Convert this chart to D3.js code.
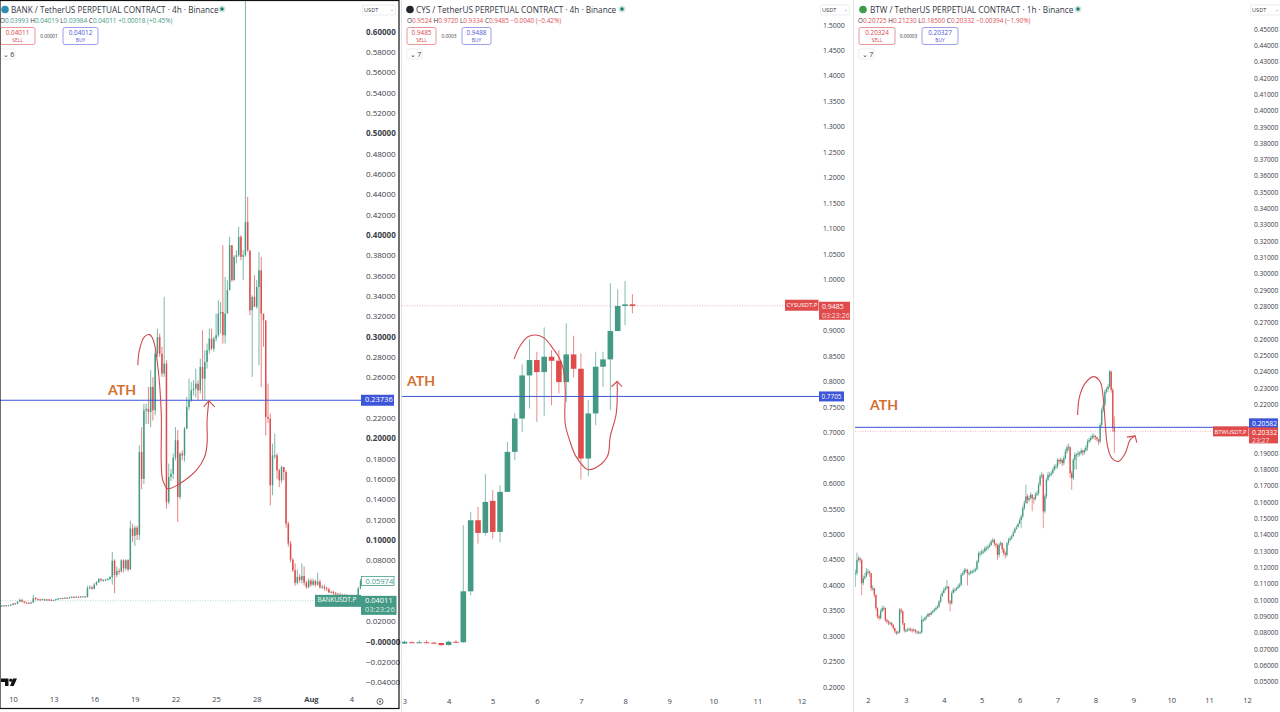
<!DOCTYPE html>
<html>
<head>
<meta charset="utf-8">
<script src="https://cdn.jsdelivr.net/npm/d3@7"></script>
<style>
  body { margin: 0; background: #fff; }
  text { font-family: "Open Sans", Roboto, sans-serif; }
</style>
</head>
<body>
<div id="chart"></div>
<script>
// BANK 4h
const bankCloses = [.035,.0353,.0356,.0354,.0358,.0362,.0375,.0372,.0392,.041,.0395,.0385,.0382,.0378,.0385,.0428,.0418,.0415,.0412,.0418,.0408,.0415,.0412,.0405,.0408,.0418,.0422,.0428,.0425,.0432,.0428,.0435,.044,.0438,.0442,.044,.0442,.0445,.0438,.0525,.0535,.052,.056,.0585,.0615,.0605,.0605,.061,.0615,.0635,.0795,.0654,.0695,.069,.08,.072,.08,.071,.1113,.104,.112,.105,.1865,.16,.2275,.229,.2258,.2505,.2275,.2832,.2996,.2832,.2636,.2734,.1373,.1619,.165,.181,.198,.1422,.1848,.183,.2094,.2308,.2373,.2472,.2488,.2537,.2472,.2701,.2586,.275,.2865,.298,.2882,.298,.3013,.3226,.3242,.3013,.3226,.3456,.3898,.3554,.3784,.38,.398,.3784,.38,.4128,.3849,.3259,.339,.3292,.3488,.3652,.3226,.316,.2209,.2193,.1537,.1832,.1832,.1684,.1586,.1717,.1668,.116,.0965,.0805,.0703,.0578,.0637,.0605,.0645,.058,.0535,.06,.056,.0595,.056,.059,.0535,.054,.0525,.0515,.0485,.049,.0475,.0465,.0455,.046,.0455,.0455,.044,.0435,.0425,.0415,.0405,.0523,.0597];
const bankHighs = [.0356,.0358,.036,.036,.0362,.0368,.038,.0382,.04,.0425,.042,.04,.039,.0385,.039,.046,.044,.0425,.042,.0425,.042,.042,.0418,.0415,.0412,.0422,.0428,.0432,.0432,.0436,.0434,.044,.0445,.0445,.0447,.0446,.0446,.0448,.0448,.055,.0555,.0545,.0575,.0595,.0625,.0625,.0615,.062,.0625,.0645,.088,.081,.074,.072,.081,.081,.081,.081,.119,.116,.114,.114,.193,.211,.234,.234,.2505,.2668,.26,.286,.3078,.3029,.2898,.339,.2767,.175,.17,.185,.211,.208,.1865,.188,.211,.2406,.2586,.2554,.257,.2685,.257,.2783,.3062,.2865,.2931,.3078,.3078,.3,.3226,.3357,.3341,.3898,.3587,.3554,.398,.3898,.38,.3849,.4079,.3997,.385,.63,.4374,.3833,.3406,.3603,.3555,.3833,.3784,.322,.2571,.2537,.2242,.1947,.2045,.185,.17,.1734,.1717,.1685,.118,.099,.082,.077,.071,.066,.0768,.074,.06,.062,.062,.062,.061,.0677,.061,.056,.056,.054,.053,.05,.05,.049,.048,.048,.047,.047,.0465,.045,.044,.043,.042,.054,.0615];
const bankLows = [.0345,.0348,.035,.035,.0352,.0355,.0358,.0365,.037,.039,.0385,.0375,.0372,.037,.0372,.038,.0405,.0405,.0405,.0405,.04,.04,.04,.04,.04,.0405,.0415,.042,.042,.0422,.0422,.0425,.043,.043,.0435,.0435,.0435,.044,.0432,.0435,.0515,.051,.0515,.055,.0575,.059,.059,.0595,.06,.061,.056,.0477,.063,.066,.068,.068,.07,.069,.0705,.098,.094,.1,.1,.15,.155,.214,.214,.211,.2175,.2225,.28,.28,.2603,.2603,.1307,.135,.158,.16,.1783,.1176,.14,.1783,.177,.2094,.2275,.2357,.242,.24,.2373,.244,.2373,.2373,.2685,.2832,.2865,.285,.295,.2997,.3029,.2931,.2931,.3407,.3456,.3538,.3554,.372,.3784,.3751,.3555,.3784,.3833,.321,.2603,.3292,.3275,.2718,.2504,.2899,.2029,.215,.134,.144,.18,.16,.152,.156,.1587,.112,.0935,.078,.0685,.055,.056,.058,.057,.055,.052,.0525,.054,.055,.054,.055,.052,.052,.05,.0495,.0475,.0475,.046,.045,.0445,.0445,.0445,.044,.043,.042,.041,.04,.0395,.0395,.0515];
// price ticks, the ones behind a price tag are left out
const bankTicks = [-.04,-.02,0,.02,.08,.1,.12,.14,.16,.18,.2,.22,.26,.28,.3,.32,.34,.36,.38,.4,.42,.44,.46,.48,.5,.52,.54,.56,.58,.6];
const bankBoldTicks = [.6, .5, .4, .3, .2, .1, 0];
const bankDates = [[6, "10"], [24, "13"], [42, "16"], [60, "19"], [78, "22"], [96, "25"], [114, "28"], [138, "Aug"], [156, "4"]];
const bankPen = [[61.3,.2718],[62,.2865],[64.2,.2996],[66.5,.3019],[68.2,.2964],[70.2,.2701],[71.7,.2242],[71.7,.175],[72.4,.1586],[74.6,.1504],[79.8,.1553],[87.2,.1684],[90.9,.1816],[92,.1947],[92,.2176],[92.8,.2367]];
const bankArrow = [[90.5,.2308],[92.8,.2367],[95.4,.2308]];

// CYS 4h
const cysOpens  = [.2855,.288,.2872,.288,.2872,.2865,.2825,.289,.288,.388,.5275,.5026,.5655,.5046,.5832,.6617,.7272,.8117,.8419,.8183,.8484,.8405,.7986,.853,.8248,.6486,.7371,.8288,.8432,.8988,.948,.9512];
const cysCloses = [.289,.2872,.288,.2872,.2865,.2825,.289,.2885,.388,.5275,.5026,.5635,.5046,.5832,.6617,.7272,.8117,.8419,.8183,.8484,.8405,.7986,.853,.8248,.6486,.7371,.8288,.8432,.8988,.948,.9512,.948];
const cysHighs  = [.291,.29,.292,.292,.289,.286,.291,.292,.5177,.5439,.5537,.618,.5865,.5963,.6814,.7378,.8333,.8825,.8582,.906,.8615,.8615,.9139,.8897,.855,.7632,.8582,.8582,.9925,.9807,.9971,.9715];
const cysLows   = [.2845,.2865,.286,.2865,.285,.2805,.282,.2875,.287,.3801,.4817,.4975,.4915,.4836,.644,.6453,.701,.7469,.7207,.7325,.7534,.7763,.76,.8078,.6074,.6139,.7141,.7895,.7436,.8988,.9106,.9336];
const cysTicks = [.2,.25,.3,.35,.4,.45,.5,.55,.6,.65,.7,.75,.8,.85,.9,1,1.05,1.1,1.15,1.2,1.25,1.3,1.35,1.4,1.45,1.5];
const cysDates = [[0, "3"], [6, "4"], [12, "5"], [18, "6"], [24, "7"], [30, "8"], [36, "9"], [42, "10"], [48, "11"], [54, "12"]];
const cysPen = [[14.9,.8438],[15.65,.868],[16.78,.8877],[17.91,.891],[19.05,.8844],[20.18,.8648],[21.09,.8451],[21.63,.8222],[21.86,.7829],[21.86,.7174],[22.45,.6847],[23.36,.6519],[24.94,.627],[26.53,.6355],[27.66,.6552],[27.98,.6912],[28.8,.737],[28.93,.8]];
const cysArrow = [[28.16,.7895],[28.93,.8],[29.6,.7895]];

// BTW 1h
const btwCloses = [.1164,.1246,.1256,.1246,.1103,.1133,.1144,.1174,.1174,.1164,.1072,.1072,.1031,.095,.0899,.0889,.093,.095,.095,.0878,.0868,.0858,.0858,.0848,.0827,.0807,.0797,.0801,.094,.093,.0858,.0813,.0813,.0817,.0821,.0817,.0813,.0817,.0807,.0801,.0801,.0801,.0878,.0878,.0889,.0899,.0915,.0909,.0923,.093,.094,.095,.096,.099,.1021,.1042,.1062,.1072,.1082,.099,.098,.1042,.1062,.1062,.1072,.1082,.1093,.1154,.1164,.1184,.1184,.1164,.1164,.1174,.1174,.118,.1188,.1235,.1286,.1286,.1297,.1297,.1317,.1317,.1327,.1337,.1358,.1368,.1345,.1337,.1276,.134,.1348,.131,.1286,.1276,.1348,.1368,.1378,.139,.141,.1435,.1445,.1465,.149,.1512,.1563,.1594,.1635,.1614,.1624,.1645,.1624,.1618,.1645,.1655,.1706,.1757,.1767,.1543,.1635,.1737,.1767,.1767,.1777,.1798,.1818,.1818,.1859,.1849,.1859,.1839,.1869,.191,.1936,.1936,.1777,.1747,.1859,.189,.189,.19,.19,.1916,.1904,.1916,.1936,.1971,.1981,.1992,.2006,.2006,.1998,.1985,.1971,.2073,.2165,.2196,.2277,.2292,.2308,.24,.2287,.2053,.2033];
const btwHighs = [.1185,.129,.127,.1262,.125,.115,.1165,.1195,.119,.118,.1165,.109,.1075,.1035,.0955,.091,.0945,.0965,.0965,.0955,.0885,.0875,.087,.0865,.085,.083,.081,.0815,.095,.095,.0935,.086,.0825,.0828,.0832,.083,.0825,.0826,.082,.0812,.0812,.081,.0905,.089,.0898,.0908,.0922,.092,.0932,.094,.095,.096,.097,.1,.1035,.1055,.1075,.1085,.1123,.1085,.1,.1055,.1075,.1072,.1082,.1095,.1105,.1165,.1175,.1195,.1195,.119,.1175,.1185,.1185,.1192,.1198,.1245,.1296,.13,.131,.131,.133,.133,.134,.135,.137,.138,.1375,.135,.134,.135,.136,.1352,.132,.1295,.1355,.138,.139,.14,.1425,.1445,.1458,.1475,.15,.1525,.1575,.161,.1706,.165,.164,.166,.165,.163,.166,.167,.172,.177,.1785,.1775,.165,.175,.1785,.1785,.179,.181,.183,.1835,.187,.1865,.1875,.1865,.1885,.1925,.195,.196,.1945,.179,.187,.1905,.19,.1915,.1912,.193,.192,.193,.195,.1985,.1995,.2005,.202,.202,.201,.2,.1985,.2085,.218,.2215,.229,.2305,.2325,.241,.2405,.23,.2125];
const btwLows = [.108,.115,.1235,.1225,.103,.109,.1125,.114,.1155,.114,.1055,.1055,.1015,.0935,.0885,.0875,.088,.0925,.0935,.0865,.0855,.0845,.0845,.0835,.0815,.0795,.0785,.079,.0795,.0915,.0845,.08,.0803,.0805,.081,.0805,.08,.0805,.0795,.079,.0792,.079,.0795,.0865,.087,.088,.0895,.0895,.0905,.0915,.0925,.0935,.0945,.095,.098,.1025,.104,.1055,.1065,.0975,.093,.097,.104,.1045,.1055,.1065,.1075,.1085,.1145,.1155,.1165,.109,.115,.1155,.116,.1165,.117,.118,.1225,.1265,.1275,.128,.129,.13,.1305,.132,.133,.135,.133,.132,.1246,.126,.133,.129,.127,.1255,.1265,.1335,.136,.137,.139,.142,.143,.145,.147,.144,.15,.155,.159,.159,.16,.1615,.1543,.159,.161,.1635,.164,.1695,.1745,.144,.153,.162,.173,.175,.1755,.177,.179,.18,.1805,.183,.1835,.182,.1825,.186,.1895,.1915,.175,.1675,.1735,.1798,.18,.1875,.188,.189,.1885,.189,.1905,.1915,.196,.197,.1985,.1985,.198,.197,.195,.196,.206,.215,.2185,.2265,.2275,.23,.227,.203,.19];
const btwTicks = [.05,.06,.07,.08,.09,.1,.11,.12,.13,.14,.15,.16,.17,.18,.19,.22,.23,.24,.25,.26,.27,.28,.29,.3,.31,.32,.33,.34,.35,.36,.37,.38,.39,.4,.41,.42,.43,.44,.45];
const btwDates = [[8, "2"], [32, "3"], [56, "4"], [80, "5"], [104, "6"], [128, "7"], [152, "8"], [176, "9"], [200, "10"], [224, "11"], [248, "12"]];
const btwPen = [[140.7,.2134],[141.95,.2247],[145.5,.2328],[150.8,.2369],[155,.2338],[157.1,.2226],[158.2,.2083],[159.7,.1941],[162.4,.1869],[166.6,.1849],[170.9,.19],[174,.1981],[177.2,.2006]];
const btwArrow = [[171.9,.1998],[177.2,.2006],[178.2,.1965]];

const green = "#449a84", red = "#e04b4b", blue = "#3d55d8", pen = "#cf4a4f", orange = "#d2702e";

const svg = d3.select("#chart").append("svg")
  .attr("width", 1280)
  .attr("height", 712)
  .style("display", "block")
  .style("background", "#ffffff");

// one chart pane: candles, price axis, date axis, notes
function drawPane(p) {
  const g = svg.append("g");

  const x = d3.scaleLinear().domain(p.xDomain).range(p.xRange);
  const y = d3.scaleLinear().domain(p.yDomain).range(p.yRange);

  const clipId = "clip-" + p.name;
  svg.append("clipPath").attr("id", clipId)
    .append("rect")
    .attr("x", p.left).attr("y", 0)
    .attr("width", p.axisX - p.left).attr("height", 708);

  const pane = g.append("g").attr("clip-path", `url(#${clipId})`);

  // last price dotted line
  pane.append("line")
    .attr("x1", p.left).attr("x2", p.axisX)
    .attr("y1", y(p.last)).attr("y2", y(p.last))
    .attr("stroke", p.lastColor).attr("stroke-opacity", 0.5)
    .attr("stroke-width", 0.8).attr("stroke-dasharray", "1 1.5");

  // candles
  const opens = p.opens || p.closes.map((c, i) => i ? p.closes[i - 1] : c);
  const candles = p.closes.map((c, i) => ({ i, o: opens[i], c, h: p.highs[i], l: p.lows[i] }));
  const colorOf = d => d.c >= d.o ? green : red;

  pane.selectAll(".wick").data(candles).join("line")
    .attr("x1", d => x(d.i)).attr("x2", d => x(d.i))
    .attr("y1", d => y(d.h)).attr("y2", d => y(d.l))
    .attr("stroke", colorOf).attr("stroke-opacity", p.wickOpacity).attr("stroke-width", 1);

  pane.selectAll(".body").data(candles).join("rect")
    .attr("x", d => x(d.i) - p.bodyWidth / 2)
    .attr("y", d => y(Math.max(d.o, d.c)))
    .attr("width", p.bodyWidth)
    .attr("height", d => Math.max(1, Math.abs(y(d.o) - y(d.c))))
    .attr("fill", colorOf);

  // ATH level
  g.append("line")
    .attr("x1", p.left).attr("x2", p.axisX)
    .attr("y1", y(p.ath)).attr("y2", y(p.ath))
    .attr("stroke", blue).attr("stroke-width", 1);

  g.append("text")
    .attr("x", p.athX).attr("y", p.athY)
    .attr("fill", orange)
    .style("font-size", "14px").style("font-weight", 700)
    .style("font-family", "Lato, sans-serif")
    .text("ATH");

  // pen strokes on top of the candles
  const curve = d3.line().x(d => x(d[0])).y(d => y(d[1])).curve(d3.curveCatmullRom.alpha(0.5));
  const straight = d3.line().x(d => x(d[0])).y(d => y(d[1]));
  g.append("path").attr("d", curve(p.penLine))
    .attr("fill", "none").attr("stroke", pen).attr("stroke-width", 1.1);
  g.append("path").attr("d", straight(p.penArrow))
    .attr("fill", "none").attr("stroke", pen).attr("stroke-width", 1.1);

  // price axis
  const yAxis = g.append("g")
    .attr("transform", `translate(${p.axisX},0)`)
    .call(d3.axisRight(y).tickValues(p.ticks).tickSize(0).tickPadding(p.tickPad)
      .tickFormat(d => Math.abs(d) < 1e-9 ? "\u2212" + d3.format(p.fmt)(0) : d3.format(p.fmt)(d).replace("-", "\u2212")));
  yAxis.select(".domain").remove();
  yAxis.selectAll("text")
    .style("font-size", p.tickFont + "px")
    .attr("fill", "#3a3e48")
    .style("font-weight", d => (p.boldTicks || []).some(b => Math.abs(b - d) < 1e-9) ? 700 : 400);

  // date axis
  const xAxis = g.append("g")
    .attr("transform", `translate(0,${p.dateY})`)
    .call(d3.axisBottom(x).tickValues(p.dates.map(d => d[0])).tickSize(0).tickPadding(0)
      .tickFormat((d, i) => p.dates[i][1]));
  xAxis.select(".domain").remove();
  xAxis.selectAll("text")
    .style("font-size", "7.5px")
    .attr("fill", "#3a3e48")
    .style("font-weight", (d, i) => p.dates[i][1] === "Aug" ? 700 : 400);

  drawHeader(g, p);
  p.tags.forEach(t => drawTag(g, t, y));
  return { x, y, g };
}

function drawTag(g, t, y) {
  const cy = y(t.value);
  g.append("rect")
    .attr("x", t.x).attr("y", cy - t.above)
    .attr("width", t.w).attr("height", t.h)
    .attr("fill", t.fill).attr("stroke", t.stroke || "none").attr("stroke-width", 0.8);
  t.lines.forEach((line, i) => {
    g.append("text")
      .attr("x", t.x + t.textDx).attr("y", cy - t.above + 7.5 + i * 8.5)
      .attr("fill", t.color)
      .attr("fill-opacity", i ? 0.8 : 1)
      .style("font-size", t.font + "px")
      .text(line);
  });
}

function drawHeader(g, p) {
  const h = p.head;
  g.append("circle").attr("cx", h.iconX).attr("cy", 9.5).attr("r", 3.8).attr("fill", h.iconColor);
  g.append("text").attr("x", h.titleX).attr("y", 12.5)
    .attr("fill", "#33363f").style("font-size", "8.2px").text(h.title);
  g.append("circle").attr("cx", h.dotX).attr("cy", 9).attr("r", 3.5).attr("fill", "#cfe9e0");
  g.append("circle").attr("cx", h.dotX).attr("cy", 9).attr("r", 1.7).attr("fill", "#1f7a63");

  // O H L C row
  const row = g.append("text").attr("x", h.ohlcX).attr("y", 22.8).style("font-size", "6.4px");
  h.ohlc.forEach(([k, v]) => {
    if (k) row.append("tspan").attr("fill", "#33363f").text(k);
    row.append("tspan").attr("fill", h.ohlcColor).text(v + " ");
  });

  // sell and buy boxes
  const box = (bx, color, price, label) => {
    g.append("rect").attr("x", bx).attr("y", 27.5).attr("width", h.boxW).attr("height", 17).attr("rx", 2)
      .attr("fill", "#fff").attr("stroke", color).attr("stroke-opacity", 0.7).attr("stroke-width", 0.8);
    g.append("text").attr("x", bx + h.boxW / 2).attr("y", 35).attr("text-anchor", "middle")
      .attr("fill", color).style("font-size", "6.4px").text(price);
    g.append("text").attr("x", bx + h.boxW / 2).attr("y", 42).attr("text-anchor", "middle")
      .attr("fill", color).style("font-size", "4.8px").text(label);
  };
  box(h.sellX, "#d9444a", h.sell, "SELL");
  box(h.buyX, "#4a55d8", h.buy, "BUY");
  g.append("text").attr("x", (h.sellX + h.boxW + h.buyX) / 2).attr("y", 37.5).attr("text-anchor", "middle")
    .attr("fill", "#33363f").style("font-size", "4.8px").text(h.spread);

  // collapsed indicators
  g.append("rect").attr("x", h.sellX).attr("y", 49).attr("width", 15).attr("height", 10).attr("rx", 1.5)
    .attr("fill", "#fff").attr("stroke", "#e3e5ea").attr("stroke-width", 0.7);
  g.append("text").attr("x", h.sellX + 2.5).attr("y", 56.5)
    .attr("fill", "#33363f").style("font-size", "7px").text("\u2304 " + h.count);

  // currency box
  g.append("rect").attr("x", p.axisX + 1.5).attr("y", 5).attr("width", p.usdtW).attr("height", 10).attr("rx", 1.5)
    .attr("fill", "#fff").attr("stroke", "#e3e5ea").attr("stroke-width", 0.7);
  g.append("text").attr("x", p.axisX + 3).attr("y", 12)
    .attr("fill", "#33363f").style("font-size", "5.6px").text("USDT");
  g.append("text").attr("x", p.axisX + p.usdtW - 3).attr("y", 12)
    .attr("fill", "#33363f").style("font-size", "5.6px").text("-");
}

drawPane({
  name: "bank", left: 0, axisX: 361,
  closes: bankCloses, highs: bankHighs, lows: bankLows,
  xDomain: [6, 156], xRange: [13, 351.5],
  yDomain: [-0.04, 0.6], yRange: [682.3, 31.5],
  ticks: bankTicks, boldTicks: bankBoldTicks, fmt: ".5f", tickPad: 5, tickFont: 8,
  dates: bankDates, dateY: 697,
  bodyWidth: 1.5, wickOpacity: 0.7,
  last: 0.04011, lastColor: green, ath: 0.23736, athX: 108, athY: 395,
  penLine: bankPen, penArrow: bankArrow, usdtW: 33,
  head: {
    iconX: 5, iconColor: "#2e8fb5", titleX: 11, dotX: 222,
    title: "BANK / TetherUS PERPETUAL CONTRACT \u00b7 4h \u00b7 Binance",
    ohlcX: 0, ohlcColor: "#3f9a84",
    ohlc: [["O", "0.03993"], ["H", "0.04019"], ["L", "0.03984"], ["C", "0.04011"], ["", "+0.00018 (+0.45%)"]],
    sellX: 0, buyX: 63, boxW: 35, sell: "0.04011", buy: "0.04012", spread: "0.00001", count: "6"
  },
  tags: [
    { value: 0.23736, x: 361, above: 5.5, w: 33, h: 11, fill: blue, color: "#fff", lines: ["0.23736"], textDx: 4, font: 7.5 },
    { value: 0.05974, x: 361.5, above: 4.5, w: 32.5, h: 9, fill: "#fff", stroke: green, color: green, lines: ["0.05974"], textDx: 4, font: 7.5 },
    { value: 0.04011, x: 315, above: 6, w: 46, h: 12, fill: green, color: "#fff", lines: ["BANKUSDT.P"], textDx: 2.5, font: 6.4 },
    { value: 0.04011, x: 361, above: 5, w: 35.5, h: 19, fill: green, color: "#fff", lines: ["0.04011", "03:23:26"], textDx: 4, font: 7.5 }
  ]
});

drawPane({
  name: "cys", left: 402, axisX: 819,
  opens: cysOpens, closes: cysCloses, highs: cysHighs, lows: cysLows,
  xDomain: [0, 54], xRange: [404.5, 801.5],
  yDomain: [0.2, 1.5], yRange: [687.1, 24.75],
  ticks: cysTicks, fmt: ".4f", tickPad: 4, tickFont: 7,
  dates: cysDates, dateY: 699,
  bodyWidth: 5.6, wickOpacity: 0.65,
  last: 0.9485, lastColor: red, ath: 0.7705, athX: 407, athY: 386,
  penLine: cysPen, penArrow: cysArrow, usdtW: 29,
  head: {
    iconX: 410, iconColor: "#22262e", titleX: 416, dotX: 622,
    title: "CYS / TetherUS PERPETUAL CONTRACT \u00b7 4h \u00b7 Binance",
    ohlcX: 407, ohlcColor: "#dd5055",
    ohlc: [["O", "0.9524"], ["H", "0.9720"], ["L", "0.9334"], ["C", "0.9485"], ["", "\u22120.0040 (\u22120.42%)"]],
    sellX: 407, buyX: 462, boxW: 29, sell: "0.9485", buy: "0.9488", spread: "0.0003", count: "7"
  },
  tags: [
    { value: 0.7705, x: 819, above: 5, w: 25, h: 10, fill: blue, color: "#fff", lines: ["0.7705"], textDx: 2.5, font: 6.4 },
    { value: 0.9485, x: 785, above: 6, w: 33.5, h: 11, fill: red, color: "#fff", lines: ["CYSUSDT.P"], textDx: 1.5, font: 6 },
    { value: 0.9485, x: 819, above: 4, w: 31, h: 18, fill: red, color: "#fff", lines: ["0.9485", "03:23:26"], textDx: 3, font: 7 }
  ]
});

drawPane({
  name: "btw", left: 855, axisX: 1249,
  closes: btwCloses, highs: btwHighs, lows: btwLows,
  xDomain: [8, 248], xRange: [868, 1247],
  yDomain: [0.05, 0.45], yRange: [681.5, 29],
  ticks: btwTicks, fmt: ".5f", tickPad: 5, tickFont: 6.6,
  dates: btwDates, dateY: 698,
  bodyWidth: 1.3, wickOpacity: 0.6,
  last: 0.20332, lastColor: red, ath: 0.20582, athX: 870, athY: 410,
  penLine: btwPen, penArrow: btwArrow, usdtW: 30,
  head: {
    iconX: 863, iconColor: "#3f9a4c", titleX: 870, dotX: 1078,
    title: "BTW / TetherUS PERPETUAL CONTRACT \u00b7 1h \u00b7 Binance",
    ohlcX: 858, ohlcColor: "#dd5055",
    ohlc: [["O", "0.20725"], ["H", "0.21230"], ["L", "0.18500"], ["C", "0.20332"], ["", "\u22120.00394 (\u22121.90%)"]],
    sellX: 859, buyX: 922, boxW: 36, sell: "0.20324", buy: "0.20327", spread: "0.00003", count: "7"
  },
  tags: [
    { value: 0.20582, x: 1249, above: 9, w: 29, h: 10, fill: blue, color: "#fff", lines: ["0.20582"], textDx: 3, font: 6.8 },
    { value: 0.20332, x: 1213, above: 5, w: 35.5, h: 10, fill: red, color: "#fff", lines: ["BTWUSDT.P"], textDx: 1.5, font: 5.8 },
    { value: 0.20332, x: 1249, above: 4, w: 29, h: 16, fill: red, color: "#fff", lines: ["0.20332", "23:27"], textDx: 3, font: 6.8 }
  ]
});

// pane frames
svg.append("rect").attr("x", 0).attr("y", 0.5).attr("width", 399).attr("height", 708)
  .attr("fill", "none").attr("stroke", "#111").attr("stroke-width", 1.2);
[401.5, 853.5].forEach(px => {
  svg.append("line").attr("x1", px).attr("x2", px).attr("y1", 0).attr("y2", 712)
    .attr("stroke", "#e2e3e7").attr("stroke-width", 1);
});

// logo and settings marks, bottom of the first pane
const logo = svg.append("g").attr("fill", "#111");
logo.append("path").attr("d", "M1 678.5h7.5v7.5h-3.5v-4h-4z");
logo.append("circle").attr("cx", 10.8).attr("cy", 680.2).attr("r", 1.6);
logo.append("path").attr("d", "M13 678.5h4l-3.4 7.5h-3.6z");
svg.append("circle").attr("cx", 380).attr("cy", 701.5).attr("r", 3)
  .attr("fill", "none").attr("stroke", "#555").attr("stroke-width", 0.9);
svg.append("circle").attr("cx", 380).attr("cy", 701.5).attr("r", 1).attr("fill", "#555");
</script>
</body>
</html>
